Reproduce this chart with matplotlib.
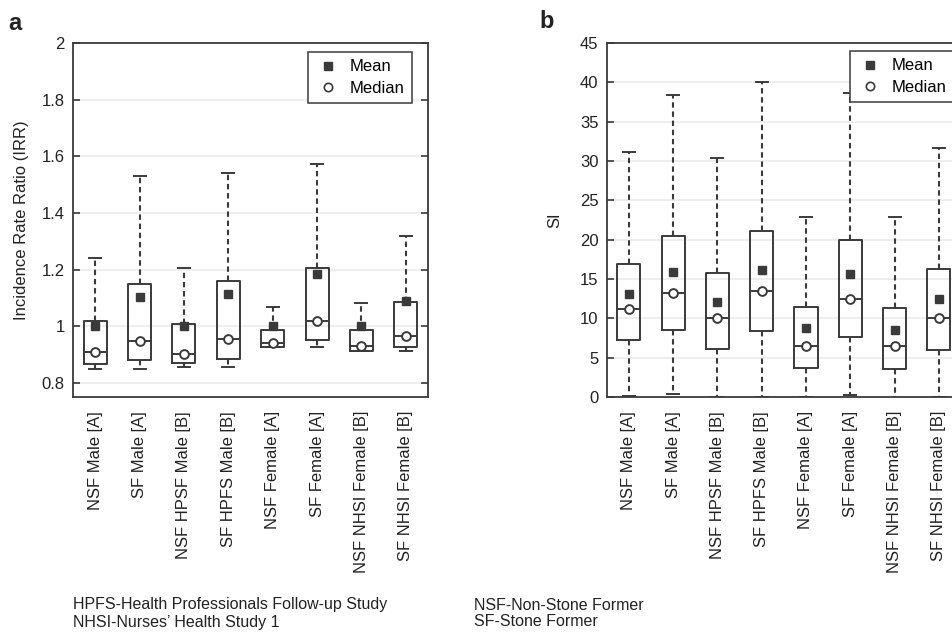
import matplotlib

matplotlib.use("Agg")

import matplotlib.pyplot as plt
from matplotlib.lines import Line2D
from matplotlib.ticker import FuncFormatter

plt.rcParams["font.family"] = ["Liberation Sans", "DejaVu Sans"]
plt.rcParams["font.size"] = 12

DARK = "#3a3a3a"
GRID = "#eeeeee"

groups = [
    "NSF Male [A]",
    "SF Male [A]",
    "NSF HPSF Male [B]",
    "SF HPFS Male [B]",
    "NSF Female [A]",
    "SF Female [A]",
    "NSF NHSI Female [B]",
    "SF NHSI Female [B]",
]

# panel a: incidence rate ratio
irr_whislo = [0.848, 0.848, 0.855, 0.855, 0.926, 0.926, 0.913, 0.913]
irr_q1 = [0.866, 0.881, 0.869, 0.885, 0.928, 0.952, 0.914, 0.925]
irr_median = [0.908, 0.948, 0.902, 0.956, 0.940, 1.019, 0.931, 0.966]
irr_q3 = [1.017, 1.150, 1.007, 1.158, 0.985, 1.207, 0.985, 1.087]
irr_whishi = [1.240, 1.529, 1.204, 1.542, 1.068, 1.574, 1.081, 1.317]
irr_mean = [1.000, 1.102, 1.000, 1.114, 1.000, 1.184, 1.000, 1.090]
irr_ticks = [0.8, 1.0, 1.2, 1.4, 1.6, 1.8, 2.0]

# panel b: SI
si_whislo = [0.1, 0.4, 0.0, 0.0, 0.0, 0.3, -0.1, 0.0]
si_q1 = [7.2, 8.5, 6.15, 8.4, 3.7, 7.6, 3.57, 6.0]
si_median = [11.2, 13.24, 10.0, 13.5, 6.54, 12.5, 6.45, 10.06]
si_q3 = [16.85, 20.5, 15.8, 21.1, 11.4, 20.0, 11.3, 16.3]
si_whishi = [31.2, 38.45, 30.4, 40.0, 22.9, 38.7, 22.9, 31.7]
si_mean = [13.03, 15.9, 12.1, 16.1, 8.83, 15.6, 8.57, 12.4]
si_ticks = [0, 5, 10, 15, 20, 25, 30, 35, 40, 45]

notes_left = ["HPFS-Health Professionals Follow-up Study", "NHSI-Nurses\u2019 Health Study 1"]
notes_right = ["NSF-Non-Stone Former", "SF-Stone Former"]

W, H = 952, 632


def fig_rect(left, top, right, bottom):
    return [left / W, 1 - bottom / H, (right - left) / W, (bottom - top) / H]


def draw_panel(ax, whislo, q1, med, q3, whishi, mean, ticks, ylim, ylabel):
    positions = list(range(1, len(groups) + 1))
    stats = [
        dict(whislo=a, q1=b, med=c, q3=d, whishi=e, mean=f)
        for a, b, c, d, e, f in zip(whislo, q1, med, q3, whishi, mean)
    ]
    line = dict(color=DARK, linewidth=1.4)
    ax.bxp(
        stats,
        positions=positions,
        widths=0.52,
        showmeans=True,
        showfliers=False,
        boxprops=line,
        medianprops=line,
        whiskerprops=dict(color=DARK, linewidth=1.5, linestyle=(0, (2.6, 1.8))),
        capprops=line,
        capwidths=0.27,
        meanprops=dict(marker="s", markersize=5.2, markerfacecolor=DARK,
                       markeredgecolor=DARK, linestyle="none"),
        zorder=3,
    )
    ax.plot(positions, med, "o", markersize=6.3, markerfacecolor="white",
            markeredgecolor=DARK, markeredgewidth=1.4, zorder=4)

    ax.set_xlim(0.5, len(groups) + 0.5)
    ax.set_ylim(*ylim)
    ax.set_yticks(ticks)
    ax.yaxis.set_major_formatter(FuncFormatter(lambda v, _: f"{v:g}"))
    ax.set_xticks(positions)
    ax.set_xticklabels(groups, rotation=90, color="#222222")
    ax.tick_params(axis="x", length=0, pad=10)
    ax.tick_params(axis="y", direction="in", length=5, width=1.2, color=DARK,
                   right=True, labelcolor="#222222", pad=6)
    ax.grid(axis="y", color=GRID, linewidth=1.4, zorder=0)
    ax.set_axisbelow(True)
    for spine in ax.spines.values():
        spine.set_color(DARK)
        spine.set_linewidth(1.3)
    ax.set_ylabel(ylabel, color="#222222")
    ax.yaxis.set_label_coords(-0.124, 0.5)


def add_legend(ax, fig, left, top):
    handles = [
        Line2D([], [], marker="s", linestyle="none", markersize=5.5,
               markerfacecolor=DARK, markeredgecolor=DARK),
        Line2D([], [], marker="o", linestyle="none", markersize=6,
               markerfacecolor="white", markeredgecolor=DARK, markeredgewidth=1.2),
    ]
    leg = ax.legend(
        handles, ["Mean", "Median"],
        loc="upper left",
        bbox_to_anchor=(left / W, 1 - top / H),
        bbox_transform=fig.transFigure,
        fancybox=False,
        framealpha=1,
        edgecolor=DARK,
        handlelength=1.5,
        handletextpad=0.58,
        labelspacing=0.38,
        borderpad=0.44,
        borderaxespad=0,
        fontsize=12,
    )
    leg.get_frame().set_linewidth(1.1)
    leg.set_zorder(6)


def main() -> None:
    fig = plt.figure(figsize=(W / 100, H / 100), dpi=100)

    ax_a = fig.add_axes(fig_rect(73, 43, 428, 397))
    draw_panel(ax_a, irr_whislo, irr_q1, irr_median, irr_q3, irr_whishi,
               irr_mean, irr_ticks, (0.75, 2.0), "Incidence Rate Ratio (IRR)")
    add_legend(ax_a, fig, 308, 52)

    ax_b = fig.add_axes(fig_rect(606.7, 43, 961, 397))
    draw_panel(ax_b, si_whislo, si_q1, si_median, si_q3, si_whishi,
               si_mean, si_ticks, (0, 45), "SI")
    add_legend(ax_b, fig, 850, 51)

    fig.text(15 / W, 1 - 23 / H, "a", fontsize=17, fontweight="bold",
             ha="center", va="center", color="#222222")
    fig.text(547 / W, 1 - 22 / H, "b", fontsize=17, fontweight="bold",
             ha="center", va="center", color="#222222")

    for i, note in enumerate(notes_left):
        fig.text(73 / W, 1 - (605 + 17 * i) / H, note, ha="left", va="center",
                 fontsize=11.5, color="#222222")
    for i, note in enumerate(notes_right):
        fig.text(474 / W, 1 - (605 + 17 * i) / H, note, ha="left", va="center",
                 fontsize=11.5, color="#222222")

    fig.savefig("out.png", dpi=100)
    plt.close(fig)


if __name__ == "__main__":
    main()
